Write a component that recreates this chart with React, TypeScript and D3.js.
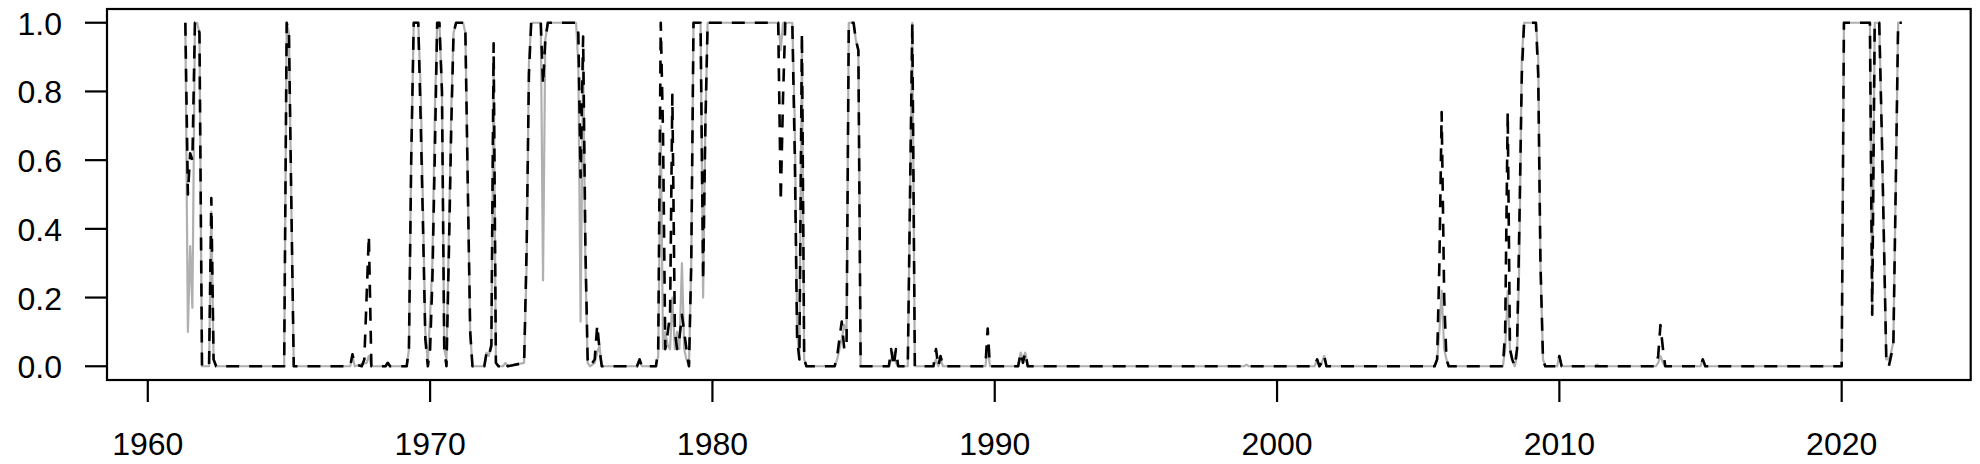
import React from 'react';
import * as d3 from 'd3';

// monthly regime probabilities (flat stretches kept as end points)
const probSolid: [number, number][] = [
  [1961.33, 1.0], [1961.42, 0.1], [1961.5, 0.35], [1961.58, 0.17], [1961.67, 1.0], [1961.75, 1.0],
  [1961.83, 0.97], [1961.92, 0.0], [1962.17, 0.0], [1962.25, 0.45], [1962.33, 0.02], [1962.42, 0.0],
  [1964.83, 0.0], [1964.92, 1.0], [1965.0, 0.97], [1965.08, 0.5], [1965.17, 0.0],
  [1967.17, 0.0], [1967.25, 0.03], [1967.33, 0.0], [1967.75, 0.01], [1967.83, 0.03], [1967.92, 0.0],
  [1968.42, 0.0], [1968.5, 0.01], [1968.58, 0.0],
  [1969.17, 0.0], [1969.25, 0.05], [1969.33, 0.6], [1969.42, 1.0], [1969.58, 1.0], [1969.67, 0.8],
  [1969.75, 0.45], [1969.83, 0.1], [1969.92, 0.01], [1970.0, 0.15], [1970.08, 0.3], [1970.17, 0.75],
  [1970.25, 1.0], [1970.33, 1.0], [1970.42, 0.8], [1970.5, 0.05], [1970.58, 0.02], [1970.67, 0.4],
  [1970.75, 0.75], [1970.83, 0.97], [1970.92, 1.0], [1971.17, 1.0], [1971.25, 0.97], [1971.33, 0.55],
  [1971.42, 0.1], [1971.5, 0.0], [1971.92, 0.0], [1972.0, 0.04], [1972.08, 0.03], [1972.17, 0.07],
  [1972.25, 0.9], [1972.33, 0.01], [1972.42, 0.0], [1972.58, 0.0], [1972.67, 0.01], [1972.75, 0.0],
  [1973.33, 0.01], [1973.42, 0.3], [1973.5, 0.88], [1973.58, 1.0], [1973.92, 1.0], [1974.0, 0.25],
  [1974.08, 0.95], [1974.17, 1.0], [1975.17, 1.0], [1975.25, 0.88], [1975.33, 0.13], [1975.42, 0.9],
  [1975.5, 0.3], [1975.58, 0.01], [1975.67, 0.0], [1975.83, 0.01], [1975.92, 0.04], [1976.0, 0.06],
  [1976.08, 0.0], [1977.33, 0.0], [1977.42, 0.02], [1977.5, 0.0],
  [1978.0, 0.0], [1978.08, 0.03], [1978.17, 0.7], [1978.25, 0.05], [1978.33, 0.1], [1978.42, 0.06],
  [1978.5, 0.05], [1978.58, 0.2], [1978.67, 0.05], [1978.75, 0.1], [1978.83, 0.05], [1978.92, 0.3],
  [1979.0, 0.05], [1979.08, 0.02], [1979.17, 0.0], [1979.25, 0.3], [1979.33, 1.0], [1979.58, 1.0],
  [1979.67, 0.2], [1979.75, 0.7], [1979.83, 1.0], [1982.33, 1.0], [1982.42, 0.92], [1982.5, 1.0],
  [1982.83, 1.0], [1982.92, 0.7], [1983.0, 0.1], [1983.08, 0.02], [1983.17, 0.95], [1983.25, 0.02],
  [1983.33, 0.0], [1984.33, 0.0], [1984.42, 0.02], [1984.5, 0.05], [1984.58, 0.08], [1984.67, 0.12],
  [1984.75, 0.1], [1984.83, 1.0], [1985.0, 1.0], [1985.08, 0.95], [1985.17, 0.92], [1985.25, 0.0],
  [1986.25, 0.0], [1986.33, 0.02], [1986.42, 0.04], [1986.5, 0.01], [1986.58, 0.0],
  [1986.92, 0.0], [1987.0, 0.5], [1987.08, 1.0], [1987.17, 0.0],
  [1987.83, 0.0], [1987.92, 0.02], [1988.0, 0.0], [1988.08, 0.02], [1988.17, 0.0],
  [1989.67, 0.0], [1989.75, 0.06], [1989.83, 0.0],
  [1990.83, 0.0], [1990.92, 0.04], [1991.0, 0.02], [1991.08, 0.04], [1991.17, 0.0],
  [1998.83, 0.0], [1998.92, 0.005], [1999.0, 0.0],
  [2001.33, 0.0], [2001.42, 0.02], [2001.5, 0.0], [2001.58, 0.01], [2001.67, 0.03], [2001.75, 0.0],
  [2005.58, 0.0], [2005.67, 0.02], [2005.75, 0.1], [2005.83, 0.22], [2005.92, 0.05], [2006.0, 0.02],
  [2006.08, 0.0], [2008.0, 0.0], [2008.08, 0.05], [2008.17, 0.22], [2008.25, 0.05], [2008.33, 0.02],
  [2008.42, 0.0], [2008.5, 0.03], [2008.58, 0.3], [2008.67, 0.9], [2008.75, 1.0], [2009.17, 1.0],
  [2009.25, 0.9], [2009.33, 0.3], [2009.42, 0.02], [2009.5, 0.0],
  [2009.92, 0.0], [2010.0, 0.03], [2010.08, 0.0], [2011.25, 0.0], [2011.33, 0.005], [2011.42, 0.0],
  [2013.42, 0.0], [2013.5, 0.01], [2013.58, 0.03], [2013.67, 0.01], [2013.75, 0.0],
  [2015.0, 0.0], [2015.08, 0.02], [2015.17, 0.0],
  [2020.0, 0.0], [2020.08, 1.0], [2021.0, 1.0], [2021.08, 0.15], [2021.17, 1.0], [2021.33, 1.0],
  [2021.42, 0.68], [2021.5, 0.35], [2021.58, 0.02], [2021.67, 0.02], [2021.75, 0.04], [2021.83, 0.07],
  [2021.92, 0.55], [2022.0, 1.0], [2022.13, 1.0],
];

const probDashed: [number, number][] = [
  [1961.33, 1.0], [1961.42, 0.5], [1961.5, 0.62], [1961.58, 0.6], [1961.67, 1.0], [1961.75, 1.0],
  [1961.83, 0.97], [1961.92, 0.0], [1962.17, 0.0], [1962.25, 0.49], [1962.33, 0.02], [1962.42, 0.0],
  [1964.83, 0.0], [1964.92, 1.0], [1965.0, 0.97], [1965.08, 0.5], [1965.17, 0.0],
  [1967.17, 0.0], [1967.25, 0.035], [1967.33, 0.005], [1967.58, 0.0], [1967.67, 0.02], [1967.75, 0.2],
  [1967.83, 0.38], [1967.92, 0.0], [1968.42, 0.0], [1968.5, 0.01], [1968.58, 0.0],
  [1969.17, 0.0], [1969.25, 0.05], [1969.33, 0.6], [1969.42, 1.0], [1969.58, 1.0], [1969.67, 0.7],
  [1969.75, 0.4], [1969.83, 0.08], [1969.92, 0.0], [1970.0, 0.05], [1970.08, 0.25], [1970.17, 0.63],
  [1970.25, 1.0], [1970.33, 1.0], [1970.42, 0.8], [1970.5, 0.05], [1970.58, 0.0], [1970.67, 0.35],
  [1970.75, 0.7], [1970.83, 0.97], [1970.92, 1.0], [1971.17, 1.0], [1971.25, 0.97], [1971.33, 0.55],
  [1971.42, 0.1], [1971.5, 0.0], [1971.92, 0.0], [1972.0, 0.04], [1972.08, 0.03], [1972.17, 0.06],
  [1972.25, 0.94], [1972.33, 0.01], [1972.42, 0.0], [1972.58, 0.0], [1972.67, 0.01], [1972.75, 0.0],
  [1973.33, 0.01], [1973.42, 0.35], [1973.5, 0.85], [1973.58, 1.0], [1973.92, 1.0], [1974.0, 0.82],
  [1974.08, 0.95], [1974.17, 1.0], [1975.17, 1.0], [1975.25, 0.97], [1975.33, 0.55], [1975.42, 0.96],
  [1975.5, 0.35], [1975.58, 0.02], [1975.67, 0.0], [1975.83, 0.02], [1975.92, 0.12], [1976.0, 0.05],
  [1976.08, 0.0], [1977.33, 0.0], [1977.42, 0.02], [1977.5, 0.0],
  [1978.0, 0.0], [1978.08, 0.05], [1978.17, 1.0], [1978.25, 0.68], [1978.33, 0.05], [1978.42, 0.1],
  [1978.5, 0.15], [1978.58, 0.79], [1978.67, 0.1], [1978.75, 0.05], [1978.83, 0.08], [1978.92, 0.15],
  [1979.0, 0.1], [1979.08, 0.05], [1979.17, 0.0], [1979.25, 0.3], [1979.33, 1.0], [1979.58, 1.0],
  [1979.67, 0.25], [1979.75, 0.7], [1979.83, 1.0], [1982.33, 1.0], [1982.42, 0.48], [1982.5, 0.78],
  [1982.58, 1.0], [1982.83, 1.0], [1982.92, 0.6], [1983.0, 0.08], [1983.08, 0.02], [1983.17, 0.97],
  [1983.25, 0.02], [1983.33, 0.0], [1984.33, 0.0], [1984.42, 0.03], [1984.5, 0.08], [1984.58, 0.13],
  [1984.67, 0.05], [1984.75, 0.05], [1984.83, 1.0], [1985.0, 1.0], [1985.08, 0.95], [1985.17, 0.92],
  [1985.25, 0.0], [1986.25, 0.0], [1986.33, 0.05], [1986.42, 0.0], [1986.5, 0.05], [1986.58, 0.0],
  [1986.92, 0.0], [1987.0, 0.5], [1987.08, 1.0], [1987.17, 0.0],
  [1987.83, 0.0], [1987.92, 0.05], [1988.0, 0.0], [1988.08, 0.03], [1988.17, 0.0],
  [1989.67, 0.0], [1989.75, 0.11], [1989.83, 0.0],
  [1990.83, 0.0], [1990.92, 0.04], [1991.0, 0.01], [1991.08, 0.04], [1991.17, 0.0],
  [2001.33, 0.0], [2001.42, 0.02], [2001.5, 0.0], [2001.58, 0.01], [2001.67, 0.03], [2001.75, 0.0],
  [2005.58, 0.0], [2005.67, 0.02], [2005.75, 0.3], [2005.83, 0.74], [2005.92, 0.2], [2006.0, 0.02],
  [2006.08, 0.0], [2008.0, 0.0], [2008.08, 0.1], [2008.17, 0.74], [2008.25, 0.05], [2008.33, 0.02],
  [2008.42, 0.0], [2008.5, 0.05], [2008.58, 0.4], [2008.67, 0.85], [2008.75, 1.0], [2009.17, 1.0],
  [2009.25, 0.85], [2009.33, 0.3], [2009.42, 0.02], [2009.5, 0.0],
  [2009.92, 0.0], [2010.0, 0.03], [2010.08, 0.0],
  [2013.42, 0.0], [2013.5, 0.03], [2013.58, 0.12], [2013.67, 0.05], [2013.75, 0.0],
  [2015.0, 0.0], [2015.08, 0.02], [2015.17, 0.0],
  [2020.0, 0.0], [2020.08, 1.0], [2021.0, 1.0], [2021.08, 0.15], [2021.17, 1.0], [2021.33, 1.0],
  [2021.42, 0.68], [2021.5, 0.35], [2021.58, 0.02], [2021.67, 0.0], [2021.75, 0.03], [2021.83, 0.06],
  [2021.92, 0.55], [2022.0, 1.0], [2022.13, 1.0],
];

const xTicks = [1960, 1970, 1980, 1990, 2000, 2010, 2020];
const yTicks = [0, 0.2, 0.4, 0.6, 0.8, 1.0];

// the sample runs from 1961 to early 2022; R pads both axes by 4%
const sampleStart = 1961.0;
const sampleEnd = 2022.125;

const W = 1980;
const H = 464;
const margin = { top: 9, right: 9.3, bottom: 84, left: 107 };
const font = "'Liberation Sans', Arial, Helvetica, sans-serif";

export default function App() {
  const pad = (sampleEnd - sampleStart) * 0.04;
  const x = d3.scaleLinear()
    .domain([sampleStart - pad, sampleEnd + pad])
    .range([margin.left, W - margin.right]);
  const y = d3.scaleLinear()
    .domain([-0.04, 1.04])
    .range([H - margin.bottom, margin.top]);

  const line = d3.line<[number, number]>()
    .x(d => x(d[0]))
    .y(d => y(d[1]));

  const plotBottom = H - margin.bottom;

  return (
    <div style={{ position: 'fixed', left: 0, top: 0, background: '#fff' }}>
      <svg width={W} height={H} style={{ display: 'block' }}>
        <rect x={0} y={0} width={W} height={H} fill="#fff" />

        {/* series */}
        <path d={line(probSolid) ?? ''} fill="none" stroke="#b0b0b0" strokeWidth={2.2} strokeLinejoin="round" />
        <path d={line(probDashed) ?? ''} fill="none" stroke="#000" strokeWidth={2.6}
          strokeDasharray="13 10" strokeLinejoin="round" />

        {/* box */}
        <rect x={margin.left} y={margin.top} width={W - margin.left - margin.right}
          height={H - margin.top - margin.bottom} fill="none" stroke="#000" strokeWidth={2.2} />

        {/* y axis */}
        {yTicks.map(t => (
          <g key={t}>
            <line x1={margin.left - 22} x2={margin.left} y1={y(t)} y2={y(t)} stroke="#000" strokeWidth={2.2} />
            <text x={62} y={y(t) + 1} textAnchor="end" dominantBaseline="central"
              fontFamily={font} fontSize={32} fill="#000">{t.toFixed(1)}</text>
          </g>
        ))}

        {/* x axis */}
        {xTicks.map(t => (
          <g key={t}>
            <line x1={x(t)} x2={x(t)} y1={plotBottom} y2={plotBottom + 22} stroke="#000" strokeWidth={2.2} />
            <text x={x(t)} y={455} textAnchor="middle" fontFamily={font} fontSize={32} fill="#000">{t}</text>
          </g>
        ))}
      </svg>
    </div>
  );
}
